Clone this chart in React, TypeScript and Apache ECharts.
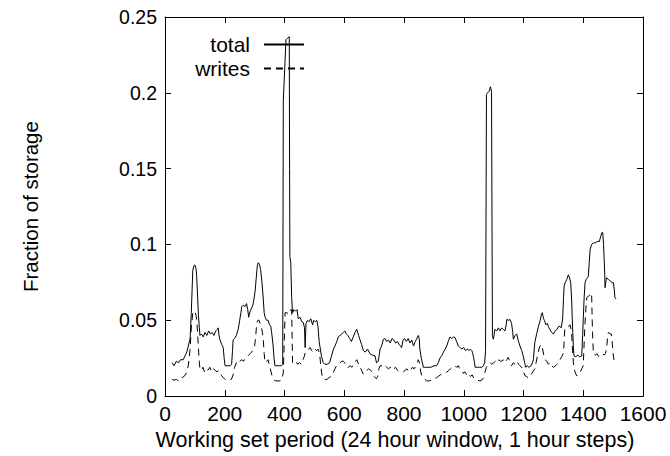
import React, { useEffect, useRef } from "react";
import * as echarts from "echarts";

const xTicks = { min: 0, max: 1600, interval: 200 };
const yTicks = { min: 0, max: 0.25, interval: 0.05 };

const seriesNames = ["total", "writes"];

const totalData: [number, number][] = [
  [24, 0.022], [30, 0.020], [38, 0.023], [45, 0.022], [52, 0.024], [61, 0.024], [68, 0.027], [73, 0.029],
  [78, 0.033], [84, 0.038], [88, 0.055], [93, 0.083], [97, 0.086], [100, 0.0865], [104, 0.084], [106, 0.079],
  [109, 0.066], [112, 0.053], [115, 0.045], [117, 0.040], [122, 0.041], [128, 0.039], [134, 0.042], [140, 0.040],
  [146, 0.043], [152, 0.041], [158, 0.042], [164, 0.040], [170, 0.043], [175, 0.044], [178, 0.045], [181, 0.040],
  [184, 0.037], [190, 0.034], [195, 0.032], [198, 0.025], [201, 0.020], [210, 0.020], [218, 0.020], [223, 0.021],
  [226, 0.030], [228, 0.037], [233, 0.038], [239, 0.040], [245, 0.044], [250, 0.050], [254, 0.055], [257, 0.059],
  [262, 0.060], [268, 0.059], [273, 0.061], [277, 0.057], [280, 0.052], [285, 0.056], [290, 0.058], [294, 0.060],
  [298, 0.064], [302, 0.070], [305, 0.077], [309, 0.086], [312, 0.088], [316, 0.087], [320, 0.0835], [325, 0.074],
  [329, 0.064], [332, 0.055], [335, 0.052], [340, 0.050], [345, 0.050], [350, 0.047], [354, 0.046], [357, 0.042],
  [362, 0.033], [365, 0.025], [368, 0.020], [375, 0.020], [383, 0.020], [390, 0.020], [394, 0.021], [396, 0.195],
  [405, 0.235], [410, 0.236], [416, 0.237], [417, 0.15], [418, 0.092], [421, 0.088], [424, 0.065], [427, 0.055],
  [432, 0.057], [437, 0.056], [442, 0.057], [446, 0.051], [452, 0.052], [458, 0.049], [463, 0.0485], [467, 0.045],
  [469, 0.032], [472, 0.048], [477, 0.050], [482, 0.049], [488, 0.051], [494, 0.047], [498, 0.050], [503, 0.049],
  [508, 0.050], [512, 0.046], [516, 0.036], [520, 0.031], [524, 0.026], [530, 0.022], [535, 0.021], [543, 0.021],
  [551, 0.022], [558, 0.027], [564, 0.031], [569, 0.033], [575, 0.036], [580, 0.039], [586, 0.040], [592, 0.041],
  [597, 0.042], [602, 0.043], [607, 0.041], [612, 0.040], [618, 0.038], [624, 0.036], [630, 0.039], [636, 0.042],
  [642, 0.044], [648, 0.040], [653, 0.037], [658, 0.034], [664, 0.030], [670, 0.029], [678, 0.031], [686, 0.028],
  [694, 0.027], [703, 0.0265], [708, 0.022], [714, 0.023], [720, 0.031], [725, 0.033], [731, 0.0375], [736, 0.038],
  [742, 0.036], [748, 0.037], [754, 0.035], [760, 0.038], [766, 0.037], [772, 0.035], [778, 0.036], [784, 0.034],
  [792, 0.032], [797, 0.037], [802, 0.038], [808, 0.036], [814, 0.038], [820, 0.035], [826, 0.037], [832, 0.033],
  [838, 0.036], [843, 0.038], [848, 0.040], [851, 0.038], [853, 0.031], [858, 0.025], [865, 0.019], [872, 0.019],
  [880, 0.019], [890, 0.019], [900, 0.020], [909, 0.020], [915, 0.022], [920, 0.025], [926, 0.0265], [932, 0.029],
  [938, 0.031], [943, 0.033], [948, 0.036], [954, 0.039], [960, 0.038], [966, 0.039], [971, 0.0386], [976, 0.036],
  [982, 0.033], [988, 0.032], [994, 0.031], [1000, 0.032], [1006, 0.030], [1012, 0.031], [1018, 0.030], [1022, 0.031],
  [1027, 0.030], [1030, 0.028], [1033, 0.0256], [1036, 0.022], [1038, 0.019], [1045, 0.019], [1052, 0.019], [1060, 0.019],
  [1066, 0.020], [1070, 0.022], [1073, 0.030], [1076, 0.199], [1080, 0.200], [1085, 0.201], [1089, 0.204], [1091, 0.203],
  [1093, 0.200], [1096, 0.040], [1099, 0.0375], [1102, 0.041], [1104, 0.044], [1110, 0.043], [1116, 0.045], [1121, 0.043],
  [1127, 0.045], [1132, 0.044], [1138, 0.043], [1142, 0.047], [1144, 0.0505], [1150, 0.050], [1155, 0.0505], [1160, 0.048],
  [1164, 0.042], [1166, 0.0375], [1172, 0.040], [1177, 0.041], [1182, 0.037], [1188, 0.033], [1194, 0.030], [1199, 0.0265],
  [1204, 0.022], [1207, 0.019], [1212, 0.020], [1218, 0.019], [1225, 0.020], [1230, 0.022], [1233, 0.024], [1238, 0.0355],
  [1244, 0.041], [1250, 0.046], [1256, 0.050], [1260, 0.054], [1263, 0.055], [1267, 0.051], [1270, 0.050], [1275, 0.047],
  [1280, 0.048], [1283, 0.046], [1288, 0.044], [1294, 0.042], [1300, 0.041], [1306, 0.043], [1312, 0.044], [1318, 0.046],
  [1322, 0.046], [1326, 0.045], [1331, 0.0507], [1334, 0.065], [1336, 0.0726], [1340, 0.075], [1345, 0.077], [1350, 0.080],
  [1354, 0.078], [1358, 0.075], [1361, 0.064], [1363, 0.052], [1365, 0.042], [1367, 0.032], [1369, 0.0265], [1375, 0.026],
  [1382, 0.027], [1388, 0.026], [1395, 0.0265], [1398, 0.040], [1400, 0.0507], [1403, 0.065], [1406, 0.0748], [1410, 0.077],
  [1414, 0.078], [1417, 0.079], [1420, 0.088], [1423, 0.0967], [1428, 0.100], [1434, 0.101], [1440, 0.101], [1447, 0.102],
  [1454, 0.102], [1458, 0.105], [1462, 0.1077], [1465, 0.108], [1468, 0.100], [1470, 0.090], [1472, 0.080], [1473, 0.0715],
  [1476, 0.076], [1478, 0.078], [1484, 0.077], [1490, 0.076], [1496, 0.075], [1501, 0.0748], [1504, 0.070], [1506, 0.065],
  [1510, 0.064],
];

const writesData: [number, number][] = [
  [24, 0.011], [30, 0.0105], [38, 0.011], [45, 0.010], [52, 0.012], [61, 0.0125], [68, 0.014], [73, 0.016],
  [78, 0.020], [84, 0.031], [88, 0.045], [93, 0.055], [97, 0.056], [100, 0.056], [104, 0.053], [106, 0.0507],
  [109, 0.042], [112, 0.031], [115, 0.022], [117, 0.018], [122, 0.017], [127, 0.019], [132, 0.016], [138, 0.018],
  [144, 0.017], [150, 0.019], [156, 0.016], [162, 0.018], [168, 0.017], [174, 0.016], [180, 0.017], [185, 0.015],
  [190, 0.0134], [196, 0.012], [201, 0.011], [208, 0.011], [215, 0.011], [222, 0.011], [228, 0.014], [233, 0.019],
  [239, 0.022], [245, 0.021], [250, 0.023], [257, 0.024], [263, 0.023], [268, 0.025], [273, 0.0256], [280, 0.027],
  [285, 0.028], [290, 0.029], [295, 0.031], [300, 0.033], [304, 0.040], [307, 0.0485], [311, 0.050], [315, 0.050],
  [318, 0.048], [322, 0.046], [326, 0.042], [329, 0.037], [332, 0.028], [335, 0.022], [340, 0.023], [345, 0.024],
  [350, 0.020], [355, 0.016], [360, 0.012], [363, 0.011], [370, 0.010], [378, 0.010], [385, 0.010], [392, 0.011],
  [396, 0.0158], [399, 0.035], [402, 0.055], [408, 0.055], [414, 0.054], [418, 0.055], [421, 0.057], [424, 0.057],
  [427, 0.022], [432, 0.022], [438, 0.023], [444, 0.021], [450, 0.022], [456, 0.021], [462, 0.024], [466, 0.026],
  [470, 0.029], [476, 0.030], [480, 0.031], [486, 0.032], [491, 0.030], [496, 0.029], [502, 0.031], [508, 0.030],
  [513, 0.031], [518, 0.027], [522, 0.019], [526, 0.013], [530, 0.0112], [536, 0.011], [542, 0.011], [548, 0.012],
  [556, 0.013], [563, 0.0155], [569, 0.018], [574, 0.020], [580, 0.021], [586, 0.022], [592, 0.023], [597, 0.023],
  [602, 0.022], [608, 0.019], [614, 0.019], [620, 0.020], [626, 0.019], [632, 0.022], [638, 0.023], [642, 0.024],
  [646, 0.022], [650, 0.019], [656, 0.018], [660, 0.016], [664, 0.0145], [670, 0.015], [676, 0.017], [682, 0.018],
  [688, 0.017], [694, 0.016], [700, 0.013], [704, 0.012], [708, 0.0115], [712, 0.013], [716, 0.018], [720, 0.020],
  [726, 0.020], [731, 0.019], [736, 0.020], [742, 0.019], [748, 0.018], [754, 0.019], [760, 0.017], [766, 0.018],
  [772, 0.019], [778, 0.017], [784, 0.016], [792, 0.0158], [798, 0.016], [804, 0.017], [810, 0.018], [816, 0.016],
  [822, 0.017], [828, 0.019], [834, 0.018], [840, 0.020], [845, 0.022], [848, 0.024], [852, 0.022], [856, 0.016],
  [860, 0.013], [865, 0.0123], [870, 0.011], [876, 0.010], [884, 0.010], [892, 0.0105], [900, 0.011], [908, 0.012],
  [915, 0.013], [922, 0.014], [930, 0.0145], [937, 0.015], [943, 0.0158], [950, 0.017], [956, 0.018], [962, 0.019],
  [968, 0.020], [971, 0.020], [976, 0.019], [982, 0.020], [986, 0.018], [993, 0.017], [998, 0.015], [1004, 0.016],
  [1010, 0.014], [1016, 0.015], [1022, 0.013], [1028, 0.014], [1033, 0.012], [1038, 0.011], [1046, 0.0105], [1054, 0.010],
  [1060, 0.0105], [1066, 0.012], [1071, 0.0158], [1076, 0.019], [1082, 0.021], [1088, 0.022], [1094, 0.021], [1100, 0.022],
  [1106, 0.023], [1112, 0.022], [1118, 0.024], [1122, 0.023], [1127, 0.023], [1132, 0.024], [1138, 0.022], [1144, 0.024],
  [1149, 0.0255], [1152, 0.024], [1156, 0.021], [1160, 0.020], [1166, 0.022], [1172, 0.021], [1178, 0.023], [1183, 0.021],
  [1188, 0.020], [1194, 0.019], [1200, 0.016], [1205, 0.0134], [1210, 0.013], [1216, 0.012], [1222, 0.013], [1228, 0.015],
  [1234, 0.017], [1238, 0.0178], [1242, 0.022], [1248, 0.028], [1252, 0.031], [1255, 0.033], [1260, 0.034], [1264, 0.031],
  [1268, 0.027], [1272, 0.024], [1278, 0.023], [1283, 0.021], [1288, 0.022], [1294, 0.020], [1300, 0.019], [1306, 0.0198],
  [1312, 0.021], [1318, 0.022], [1322, 0.024], [1328, 0.026], [1334, 0.0287], [1336, 0.036], [1338, 0.044], [1345, 0.046],
  [1350, 0.046], [1356, 0.047], [1361, 0.042], [1364, 0.030], [1367, 0.022], [1372, 0.016], [1378, 0.0134], [1384, 0.014],
  [1390, 0.016], [1395, 0.018], [1400, 0.020], [1403, 0.035], [1406, 0.0485], [1409, 0.058], [1412, 0.065], [1418, 0.066],
  [1424, 0.067], [1428, 0.068], [1430, 0.050], [1431, 0.042], [1434, 0.0276], [1440, 0.027], [1446, 0.028], [1452, 0.026],
  [1458, 0.027], [1464, 0.028], [1470, 0.027], [1474, 0.028], [1478, 0.031], [1481, 0.038], [1484, 0.042], [1490, 0.041],
  [1494, 0.041], [1497, 0.035], [1500, 0.028], [1503, 0.024], [1506, 0.023],
];

const xAxisTitle = "Working set period (24 hour window, 1 hour steps)";
const yAxisTitle = "Fraction of storage";

const FONT = "'Liberation Sans', Arial, Helvetica, sans-serif";

export default function App() {
  const ref = useRef<HTMLDivElement>(null);

  useEffect(() => {
    if (!ref.current) return;
    const chart = echarts.init(ref.current, undefined, { renderer: "svg" });

    const frameLine = { show: true, onZero: false, lineStyle: { color: "#000", width: 1 } };
    const tick = { show: true, inside: true, length: 6, lineStyle: { color: "#000", width: 1 } };

    const legendCommon = {
      orient: "horizontal",
      align: "right",
      right: 365,
      itemWidth: 40,
      itemHeight: 20,
      padding: 0,
      itemGap: 0,
      selectedMode: false,
      itemStyle: { color: "rgba(0,0,0,0)", borderWidth: 0, opacity: 0 },
      textStyle: { fontSize: 21, color: "#000", fontFamily: FONT, lineHeight: 20, padding: [0, 9, 0, 0] },
    };

    chart.setOption({
      animation: false,
      backgroundColor: "#fff",
      grid: { left: 165, top: 17, right: 27, bottom: 59 },
      legend: [
        { ...legendCommon, data: [seriesNames[0]], top: 34 },
        { ...legendCommon, data: [seriesNames[1]], top: 58 },
      ],
      xAxis: [
        {
          type: "value",
          position: "bottom",
          ...xTicks,
          axisLine: frameLine,
          axisTick: tick,
          axisLabel: {
            fontSize: 21,
            color: "#000",
            fontFamily: FONT,
            margin: 7,
            formatter: (v: number) => String(v),
          },
          splitLine: { show: false },
          name: xAxisTitle,
          nameLocation: "middle",
          nameGap: 29,
          nameTextStyle: { fontSize: 21.5, color: "#000", fontFamily: FONT, padding: [0, 18, 0, 0] },
        },
        {
          type: "value",
          position: "top",
          ...xTicks,
          axisLine: frameLine,
          axisTick: tick,
          axisLabel: { show: false },
          splitLine: { show: false },
        },
      ],
      yAxis: [
        {
          type: "value",
          position: "left",
          ...yTicks,
          axisLine: frameLine,
          axisTick: tick,
          axisLabel: { fontSize: 19.5, color: "#000", fontFamily: FONT, margin: 8 },
          splitLine: { show: false },
          name: yAxisTitle,
          nameLocation: "middle",
          nameGap: 124,
          nameTextStyle: { fontSize: 20.5, color: "#000", fontFamily: FONT },
        },
        {
          type: "value",
          position: "right",
          ...yTicks,
          axisLine: frameLine,
          axisTick: tick,
          axisLabel: { show: false },
          splitLine: { show: false },
        },
      ],
      series: [
        {
          type: "line",
          name: seriesNames[0],
          data: totalData,
          xAxisIndex: 0,
          yAxisIndex: 0,
          symbol: "none",
          lineStyle: { color: "#000", width: 1 },
          itemStyle: { color: "#000" },
        },
        {
          type: "line",
          name: seriesNames[1],
          data: writesData,
          xAxisIndex: 0,
          yAxisIndex: 0,
          symbol: "none",
          lineStyle: { color: "#000", width: 1, type: [7, 5] },
          itemStyle: { color: "#000" },
        },
      ],
    });

    return () => chart.dispose();
  }, []);

  return (
    <div
      ref={ref}
      style={{ position: "absolute", left: 0, top: 0, width: 670, height: 456, background: "#fff" }}
    />
  );
}
